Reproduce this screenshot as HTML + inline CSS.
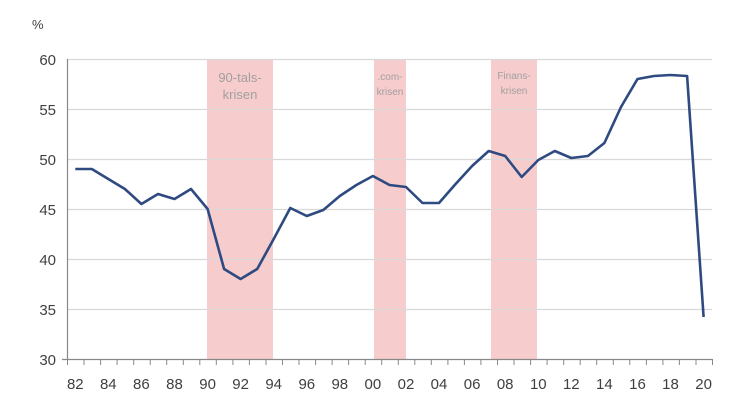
<!DOCTYPE html><html><head><meta charset="utf-8"><style>body{margin:0;background:#fff}svg{display:block;font-family:"Liberation Sans",sans-serif}</style></head><body>
<svg width="740" height="414" viewBox="0 0 740 414">
<rect x="207" y="59" width="66" height="300" fill="#f7cccc"/>
<rect x="374" y="59" width="32" height="300" fill="#f7cccc"/>
<rect x="491" y="59" width="46" height="300" fill="#f7cccc"/>
<g stroke="#d9d9d9" stroke-width="1.2">
<line x1="67" x2="712" y1="59.5" y2="59.5"/><line x1="67" x2="712" y1="109.5" y2="109.5"/><line x1="67" x2="712" y1="159.5" y2="159.5"/><line x1="67" x2="712" y1="209.5" y2="209.5"/><line x1="67" x2="712" y1="259.5" y2="259.5"/><line x1="67" x2="712" y1="309.5" y2="309.5"/>
</g>
<g fill="#a0a0a0" text-anchor="middle">
<text x="240" y="82" font-size="13">90-tals-</text><text x="240" y="99" font-size="13">krisen</text>
<text x="390" y="80" font-size="10">.com-</text><text x="390" y="95" font-size="10">krisen</text>
<text x="514" y="79" font-size="10">Finans-</text><text x="514" y="94" font-size="10">krisen</text>
</g>
<line x1="67.5" y1="59" x2="67.5" y2="360" stroke="#888" stroke-width="1.2"/>
<line x1="62" y1="359.5" x2="712" y2="359.5" stroke="#888" stroke-width="1.2"/>
<path stroke="#888" stroke-width="1" fill="none" d="M67.5 359v6M84 359v6M100.6 359v6M117.1 359v6M133.7 359v6M150.2 359v6M166.7 359v6M183.3 359v6M199.8 359v6M216.3 359v6M232.9 359v6M249.4 359v6M266 359v6M282.5 359v6M299 359v6M315.6 359v6M332.1 359v6M348.6 359v6M365.2 359v6M381.7 359v6M398.3 359v6M414.8 359v6M431.3 359v6M447.9 359v6M464.4 359v6M480.9 359v6M497.5 359v6M514 359v6M530.6 359v6M547.1 359v6M563.7 359v6M580.2 359v6M596.7 359v6M613.3 359v6M629.8 359v6M646.4 359v6M662.9 359v6M679.4 359v6M696 359v6M712.5 359v6"/>
<g fill="#404040" font-size="15" text-anchor="end">
<text x="56" y="65">60</text><text x="56" y="115">55</text><text x="56" y="165">50</text><text x="56" y="215">45</text><text x="56" y="265">40</text><text x="56" y="315">35</text><text x="56" y="365">30</text>
</g>
<text x="32" y="29" fill="#404040" font-size="13">%</text>
<g fill="#404040" font-size="15" text-anchor="middle">
<text x="75.3" y="389">82</text><text x="108.3" y="389">84</text><text x="141.4" y="389">86</text><text x="174.5" y="389">88</text><text x="207.6" y="389">90</text><text x="240.6" y="389">92</text><text x="273.7" y="389">94</text><text x="306.8" y="389">96</text><text x="339.8" y="389">98</text><text x="372.9" y="389">00</text><text x="406" y="389">02</text><text x="439" y="389">04</text><text x="472.1" y="389">06</text><text x="505.2" y="389">08</text><text x="538.3" y="389">10</text><text x="571.3" y="389">12</text><text x="604.4" y="389">14</text><text x="637.5" y="389">16</text><text x="670.5" y="389">18</text><text x="703.6" y="389">20</text>
</g>
<polyline fill="none" stroke="#2e4a80" stroke-width="2.6" stroke-linejoin="round" points="75.3,169 91.8,169 108.3,179 124.9,189 141.4,204 158,194 174.5,199 191,189 207.6,209 224.1,269 240.6,279 257.2,269 273.7,239 290.3,208 306.8,216 323.3,210 339.8,196 356.4,185 372.9,176 389.5,185 406,187 422.5,203 439,203 455.6,184 472.1,166 488.7,151 505.2,156 521.7,177 538.3,160 554.8,151 571.3,158 587.9,156 604.4,143 621,107 637.5,79 654,76 670.5,75 687.1,76 703.6,317"/>
</svg></body></html>
